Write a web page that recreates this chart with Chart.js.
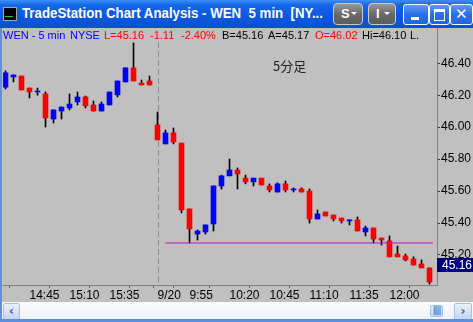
<!DOCTYPE html>
<html>
<head>
<meta charset="utf-8">
<script src="https://cdn.jsdelivr.net/npm/chart.js@4.4.1/dist/chart.umd.min.js"></script>
<style>
  body { margin: 0; width: 473px; height: 322px; overflow: hidden; position: relative; background: #c0c0c0; font-family: "Liberation Sans", Arial, sans-serif; }
  #title { position: absolute; left: 0; top: 0; width: 473px; height: 28px; background: linear-gradient(#3f8ff6 0%, #1466ea 18%, #0a58e0 60%, #0a50d2 100%); }
  #title .txt { position: absolute; left: 22px; top: 5px; color: #fff; font: bold 14px "Liberation Sans", Arial, sans-serif; white-space: pre; transform-origin: 0 0; }
  #icon { position: absolute; left: 3px; top: 7px; width: 12px; height: 12px; background: #000; border: 1px solid #9aa; }
  #icon i { position: absolute; left: 1px; top: 8px; width: 8px; height: 1px; background: #2c2; }
  .gbtn { position: absolute; top: 3px; height: 20px; border-radius: 4px; border: 1px solid #c8ccd4; background: linear-gradient(#9a9a9a, #6a6a6a 50%, #5c5c5c); color: #fff; font: bold 13px "Liberation Sans", Arial; }
  .gbtn b { position: absolute; left: 7px; top: 2px; }
  .gbtn s { position: absolute; right: 5px; top: 8px; width: 0; height: 0; border-left: 3px solid transparent; border-right: 3px solid transparent; border-top: 3px solid #fff; }
  .bbtn { position: absolute; top: 4px; height: 19px; border-radius: 3px; border: 1px solid #fff; background: linear-gradient(#5c9cf8, #2a6fea 50%, #2462e0); }
  #frameL { position: absolute; left: 0; top: 28px; width: 2px; height: 294px; background: #5d8fe0; }
  #chartBox { position: absolute; left: 3px; top: 28px; width: 470px; height: 274px; }
  #info span { position: absolute; top: 29px; font-size: 11px; line-height: 13px; white-space: pre; }
  .note { position: absolute; left: 273px; top: 56px; font: 13px "Noto Sans CJK JP", sans-serif; color: #222; }
  #scroll { position: absolute; left: 2px; top: 302px; width: 471px; height: 17px; background: linear-gradient(#fbfcfe, #eef2fa); }
  .sbtn { position: absolute; top: 1px; height: 15px; border: 1px solid #a9bfe6; border-radius: 2px; background: linear-gradient(#e9f0fd, #c4d5f5); color: #4d6185; font: bold 12px "DejaVu Sans", sans-serif; text-align: center; line-height: 15px; }
  #frameB { position: absolute; left: 0; top: 319px; width: 473px; height: 3px; background: #5d8fe0; }
</style>
</head>
<body>
<div id="title">
  <div id="icon"><i></i></div>
  <div class="txt" id="titleText">TradeStation Chart Analysis - WEN  5 min  [NY...</div>
  <div class="gbtn" style="left:333px;width:28px;"><b>S</b><s></s></div>
  <div class="gbtn" style="left:368px;width:26px;"><b>I</b><s></s></div>
  <div class="bbtn" style="left:403px;width:24px;"><div style="position:absolute;left:7px;top:12px;width:8px;height:3px;background:#fff;"></div></div>
  <div class="bbtn" style="left:429px;width:19px;"><div style="position:absolute;left:4px;top:4px;width:9px;height:8px;border:1px solid #fff;border-top-width:3px;"></div></div>
  <div class="bbtn" style="left:450px;width:21px;"><div style="position:absolute;left:4px;top:0px;color:#fff;font:bold 15px 'DejaVu Sans';">✕</div></div>
</div>
<div id="frameL"></div>
<div id="chartBox"><canvas id="chart" width="470" height="274"></canvas></div>
<div id="info">
  <span style="left:3px;color:#0000ff;">WEN - 5 min</span>
  <span style="left:70px;color:#0000ff;">NYSE</span>
  <span style="left:104px;color:#ff0000;">L=45.16</span>
  <span style="left:150px;color:#ff0000;">-1.11</span>
  <span style="left:181px;color:#ff0000;">-2.40%</span>
  <span style="left:222px;color:#000;">B=45.16</span>
  <span style="left:268px;color:#000;">A=45.17</span>
  <span style="left:315px;color:#ff0000;">O=46.02</span>
  <span style="left:362px;color:#000;">Hi=46.10</span>
  <span style="left:410px;color:#000;">L.</span>
</div>
<div class="note">5分足</div>
<div id="scroll">
  <div class="sbtn" style="left:1px;width:15px;">‹</div>
  <div class="sbtn" style="left:428px;width:11px;top:3px;height:10px;line-height:9px;font-size:8px;letter-spacing:-1px;">||||</div>
  <div class="sbtn" style="left:452px;width:16px;">›</div>
</div>
<div id="frameB"></div>

<script>
// 5 min bars: 14:30-16:00 previous day, then 9:35-12:25 on 9/20
const times = [
  "14:30", "14:35", "14:40", "14:45", "14:50", "14:55", "15:00", "15:05", "15:10", "15:15",
  "15:20", "15:25", "15:30", "15:35", "15:40", "15:45", "15:50", "15:55", "16:00",
  "9:35", "9:40", "9:45", "9:50", "9:55", "10:00", "10:05", "10:10", "10:15", "10:20",
  "10:25", "10:30", "10:35", "10:40", "10:45", "10:50", "10:55", "11:00", "11:05", "11:10",
  "11:15", "11:20", "11:25", "11:30", "11:35", "11:40", "11:45", "11:50", "11:55", "12:00",
  "12:05", "12:10", "12:15", "12:20", "12:25",
];
const opens = [
  46.25, 46.314, 46.32, 46.245, 46.22, 46.208, 46.051, 46.101, 46.12, 46.158,
  46.189, 46.139, 46.101, 46.139, 46.202, 46.283, 46.371, 46.276, 46.289,
  46.014, 45.895, 45.964, 45.90, 45.488, 45.331, 45.344, 45.394, 45.632, 45.695,
  45.732, 45.681, 45.657, 45.681, 45.632, 45.594, 45.645, 45.607, 45.613, 45.60,
  45.425, 45.469, 45.45, 45.431, 45.413, 45.419, 45.344, 45.369, 45.306, 45.288,
  45.206, 45.194, 45.175, 45.144, 45.119,
];
const highs = [
  46.352, 46.327, 46.32, 46.245, 46.245, 46.22, 46.108, 46.126, 46.208, 46.22,
  46.195, 46.164, 46.158, 46.22, 46.289, 46.371, 46.527, 46.295, 46.32,
  46.095, 45.982, 45.995, 45.90, 45.488, 45.356, 45.388, 45.632, 45.70, 45.80,
  45.745, 45.70, 45.681, 45.681, 45.645, 45.651, 45.663, 45.62, 45.62, 45.613,
  45.482, 45.469, 45.45, 45.431, 45.42, 45.438, 45.381, 45.369, 45.306, 45.319,
  45.256, 45.206, 45.188, 45.169, 45.119,
];
const lows = [
  46.239, 46.283, 46.233, 46.183, 46.20, 46.001, 46.026, 46.051, 46.108, 46.139,
  46.12, 46.101, 46.101, 46.139, 46.189, 46.283, 46.289, 46.264, 46.264,
  45.92, 45.895, 45.895, 45.463, 45.275, 45.293, 45.331, 45.35, 45.613, 45.695,
  45.613, 45.645, 45.632, 45.638, 45.594, 45.594, 45.594, 45.594, 45.594, 45.40,
  45.425, 45.444, 45.413, 45.40, 45.388, 45.35, 45.319, 45.275, 45.263, 45.188,
  45.188, 45.163, 45.137, 45.119, 45.018,
];
const closes = [
  46.34, 46.327, 46.233, 46.22, 46.226, 46.058, 46.108, 46.126, 46.145, 46.189,
  46.133, 46.101, 46.145, 46.22, 46.289, 46.371, 46.289, 46.264, 46.264,
  45.92, 45.964, 45.907, 45.482, 45.363, 45.35, 45.388, 45.632, 45.695, 45.732,
  45.707, 45.657, 45.681, 45.638, 45.607, 45.645, 45.607, 45.613, 45.594, 45.425,
  45.457, 45.444, 45.425, 45.413, 45.42, 45.35, 45.369, 45.30, 45.294, 45.188,
  45.188, 45.169, 45.137, 45.119, 45.031,
];

const xTickBars = [3, 8, 13, 18, 19, 23, 28, 33, 38, 43, 48, 53];
const xTickText = ["14:45", "15:10", "15:35", "", "9/20", "9:55", "10:20", "10:45", "11:10", "11:35", "12:00", ""];
const yTicks = [45.2, 45.4, 45.6, 45.8, 46.0, 46.2, 46.4];

const sessionBreakBar = 19;
const supportLevel = 45.275;
const supportFrom = 20;
const supportTo = 53.45;
const lastPrice = 45.16;

const UP = "#0000ff";
const DOWN = "#ff0000";

const bodyColors = opens.map((o, i) => (closes[i] >= o ? UP : DOWN));

// squeeze the window title into the space before the title-bar buttons
const titleText = document.getElementById("titleText");
const titleWidth = titleText.getBoundingClientRect().width;
if (titleWidth > 301) titleText.style.transform = `scaleX(${301 / titleWidth})`;

const overlay = {
  id: "overlay",
  beforeDatasetsDraw(chart) {
    const { ctx, chartArea, scales } = chart;
    const x = Math.round(scales.x.getPixelForValue(sessionBreakBar)) + 0.5;
    ctx.save();
    ctx.strokeStyle = "#8c8c8c";
    ctx.lineWidth = 1;
    ctx.setLineDash([6, 3]);
    ctx.beginPath();
    ctx.moveTo(x, chartArea.top);
    ctx.lineTo(x, chartArea.bottom);
    ctx.stroke();
    ctx.restore();
  },
  afterDraw(chart) {
    const { ctx, chartArea, scales } = chart;
    ctx.save();
    // axis line continues up through the info row
    ctx.strokeStyle = "#808080";
    ctx.beginPath();
    ctx.moveTo(chartArea.right + 0.5, 0);
    ctx.lineTo(chartArea.right + 0.5, chartArea.top);
    ctx.stroke();
    // last price box
    const y = scales.y.getPixelForValue(lastPrice) + 4;
    ctx.fillStyle = "#000080";
    ctx.fillRect(chartArea.right, Math.round(y - 7), chart.width - chartArea.right, 14);
    ctx.fillStyle = "#ffffff";
    ctx.font = "12px 'Liberation Sans', Arial";
    ctx.textBaseline = "middle";
    ctx.fillText(lastPrice.toFixed(2), chartArea.right + 5, Math.round(y) + 0.5);
    ctx.restore();
  },
};

new Chart(document.getElementById("chart"), {
  type: "bar",
  data: {
    datasets: [
      {
        type: "line",
        data: [{ x: supportFrom, y: supportLevel }, { x: supportTo, y: supportLevel }],
        borderColor: "#c010c0",
        borderWidth: 1,
        pointRadius: 0,
        order: 0,
      },
      {
        data: opens.map((o, i) => ({ x: i, y: [o, closes[i]] })),
        backgroundColor: bodyColors,
        barThickness: 5,
        minBarLength: 1,
        grouped: false,
        order: 1,
      },
      {
        data: lows.map((l, i) => ({ x: i, y: [l, highs[i]] })),
        backgroundColor: "#000000",
        barThickness: 1,
        grouped: false,
        order: 2,
      },
    ],
  },
  options: {
    responsive: false,
    devicePixelRatio: 1,
    animation: false,
    layout: { padding: { top: 14, left: 0, right: 0, bottom: 0 } },
    plugins: { legend: { display: false }, tooltip: { enabled: false } },
    scales: {
      x: {
        type: "linear",
        min: -0.3125,
        max: 53.9375,
        offset: false,
        afterFit(scale) { scale.height = 17; },
        afterBuildTicks(scale) { scale.ticks = xTickBars.map((v) => ({ value: v })); },
        grid: { drawOnChartArea: false, drawTicks: true, tickLength: 3, color: "#606060" },
        border: { color: "#808080" },
        ticks: {
          autoSkip: false,
          maxRotation: 0,
          align: "start",
          padding: 0,
          color: "#000",
          font: { family: "'Liberation Sans', Arial", size: 12 },
          callback: (v) => xTickText[xTickBars.indexOf(v)] ?? "",
        },
      },
      y: {
        position: "right",
        min: 45.012,
        max: 46.533,
        afterFit(scale) { scale.width = 36; },
        afterBuildTicks(scale) { scale.ticks = yTicks.map((v) => ({ value: v })); },
        grid: { drawOnChartArea: false, drawTicks: true, tickLength: 3, color: "#333" },
        border: { color: "#808080" },
        ticks: {
          padding: 1,
          color: "#000",
          font: { family: "'Liberation Sans', Arial", size: 12 },
          callback: (v) => Number(v).toFixed(2),
        },
      },
    },
  },
  plugins: [overlay],
});
</script>
</body>
</html>
